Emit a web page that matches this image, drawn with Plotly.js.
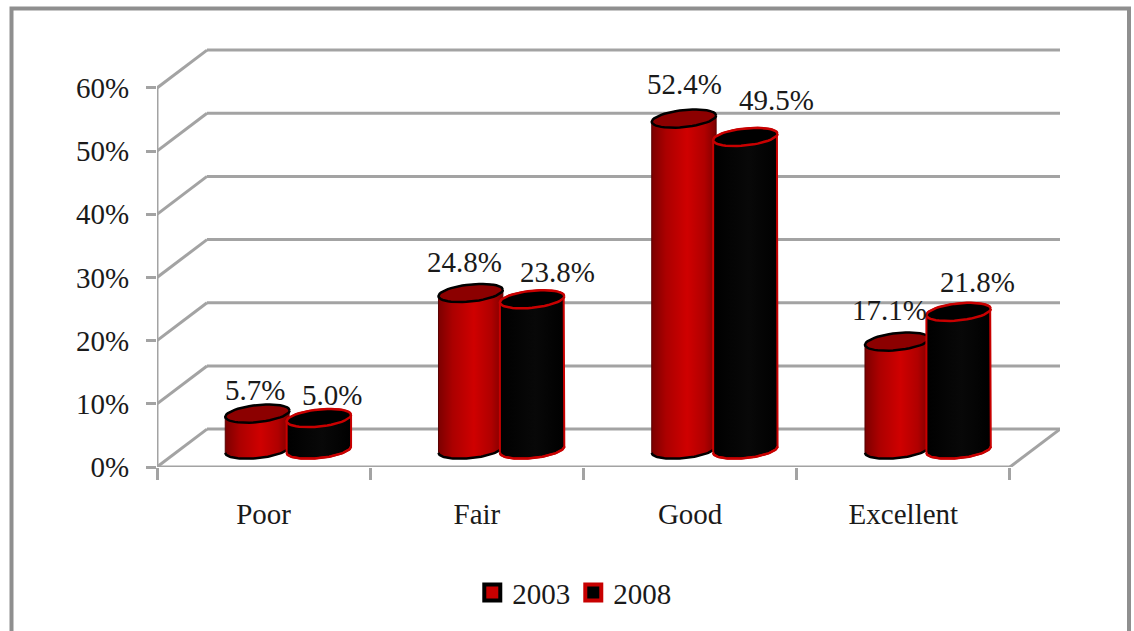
<!DOCTYPE html>
<html>
<head>
<meta charset="utf-8">
<script src="https://cdn.plot.ly/plotly-3.0.1.min.js"></script>
<style>html,body{margin:0;padding:0;background:#fff;overflow:hidden}</style>
</head>
<body>
<div id="chart" style="width:1134px;height:631px"></div>
<script>
const categories = ["Poor", "Fair", "Good", "Excellent"];
const series2003 = [5.7, 24.8, 52.4, 17.1];
const series2008 = [5.0, 23.8, 49.5, 21.8];
const yTicks = [0, 10, 20, 30, 40, 50, 60];
const yTickText = ["0%", "10%", "20%", "30%", "40%", "50%", "60%"];

// label nudges relative to the cylinder's top, in pixels
const labelDx2003 = [-2, -6, 1, -8];
const labelDy2003 = [24, 31, 35, 32];
const labelDx2008 = [13, 25, 31, 19];
const labelDy2008 = [23, 27, 37, 30];

const GRID = "#a3a3a3", FRAME = "#8f8f8f", TEXT = "#1a1a1a";
const FONT = "Liberation Serif";
const DEPTH_X = 0.2345, DEPTH_Y = 6;   // 3-D wall offset in axis units
const BASE_X = 0.115, BASE_Y = 2.75;   // cylinder foot on the floor
const OFFSET = 0.144, RX = 0.151;      // cylinder spacing and radius
const RY = 1.35, TILT = 0.5;           // ellipse shape, in % units
const ARC = 48;

function arc(xc, yc, t0, t1) {
  const xs = [], ys = [];
  for (let i = 0; i <= ARC; i++) {
    const t = t0 + (t1 - t0) * i / ARC;
    xs.push(xc + RX * Math.cos(t));
    ys.push(yc + RY * Math.sin(t) + TILT * Math.cos(t));
  }
  return {xs, ys};
}

const redScale = [[0, "#7c0000"], [0.22, "#ab0000"], [0.55, "#cf0000"], [0.82, "#b00000"], [1, "#7e0000"]];
const blackScale = [[0, "#000000"], [0.55, "#080808"], [1, "#000000"]];

function cylinder(i, v, off, scale, edge, cap, edgeW) {
  const xc = i + BASE_X + off, y0 = BASE_Y, y1 = BASE_Y + v;
  const low = arc(xc, y0, Math.PI, 2 * Math.PI);
  const up = arc(xc, y1, 0, Math.PI);
  const lid = arc(xc, y1, 0, 2 * Math.PI);
  const common = {type: "scatter", mode: "lines", hoverinfo: "skip", showlegend: false};
  return [
    Object.assign({}, common, {
      x: low.xs.concat(up.xs, [low.xs[0]]), y: low.ys.concat(up.ys, [low.ys[0]]),
      fill: "toself",
      fillgradient: {type: "horizontal", colorscale: scale},
      line: {color: edge === "#000000" ? "#5a0000" : edge, width: edgeW}
    }),
    Object.assign({}, common, {x: low.xs, y: low.ys, line: {color: edge, width: 2.5}}),
    Object.assign({}, common, {
      x: lid.xs, y: lid.ys, fill: "toself", fillcolor: cap, line: {color: edge, width: 2.5}
    })
  ];
}

const traces = [];
const annotations = [];
const label = (x, y, v, dx, dy) => annotations.push({
  x, y, text: v.toFixed(1) + "%", showarrow: false, xshift: dx, yshift: dy,
  xanchor: "center", yanchor: "middle", font: {family: FONT, size: 29, color: TEXT}
});
categories.forEach((c, i) => {
  traces.push(...cylinder(i, series2003[i], -OFFSET, redScale, "#000000", "#8c0000", 1));
  traces.push(...cylinder(i, series2008[i], OFFSET, blackScale, "#c80000", "#000000", 2));
  label(i + BASE_X - OFFSET, BASE_Y + series2003[i], series2003[i], labelDx2003[i], labelDy2003[i]);
  label(i + BASE_X + OFFSET, BASE_Y + series2008[i], series2008[i], labelDx2008[i], labelDy2008[i]);
});
// legend entries
traces.push({type: "scatter", mode: "markers", name: "2003", x: [null], y: [null],
  marker: {symbol: "square", size: 16, color: "#c80000", line: {color: "#000000", width: 4}}});
traces.push({type: "scatter", mode: "markers", name: "2008", x: [null], y: [null],
  marker: {symbol: "square", size: 16, color: "#000000", line: {color: "#c80000", width: 4}}});

const X0 = -0.5, X1 = categories.length - 0.5;
const seg = (x0, y0, x1, y1, w) => ({
  type: "line", xref: "x", yref: "y", layer: "below", x0, y0, x1, y1,
  line: {color: GRID, width: w || 3}
});
const shapes = [];
yTicks.forEach(t => {
  shapes.push(seg(X0, t, X0 + DEPTH_X, t + DEPTH_Y));
  shapes.push(seg(X0 + DEPTH_X, t + DEPTH_Y, X1 + DEPTH_X, t + DEPTH_Y));
});
shapes.push(seg(X0, yTicks[0], X0, yTicks[yTicks.length - 1]));
shapes.push(seg(X0, 0, X1, 0));
shapes.push(seg(X1, 0, X1 + DEPTH_X, DEPTH_Y));
// outer chart border, running off the bottom of the picture
shapes.push({type: "rect", xref: "paper", yref: "paper", layer: "below",
  x0: (11.5 - 157) / 903, x1: (1129 - 157) / 903,
  y0: -0.6, y1: (467 - 8.5) / 419,
  line: {color: FRAME, width: 4}});

const layout = {
  width: 1134, height: 631,
  margin: {l: 157, r: 74, t: 48, b: 164, pad: 0},
  paper_bgcolor: "#ffffff", plot_bgcolor: "rgba(0,0,0,0)",
  showlegend: true,
  legend: {orientation: "h", x: 0.461, xanchor: "center", y: -0.3, yanchor: "middle",
    font: {family: FONT, size: 29, color: TEXT}, entrywidth: 56, entrywidthmode: "pixels",
    bgcolor: "rgba(0,0,0,0)", itemclick: false, itemdoubleclick: false},
  xaxis: {
    range: [X0, X1 + DEPTH_X], tickmode: "array",
    tickvals: categories.map((c, i) => i), ticktext: categories,
    ticks: "", showgrid: false, zeroline: false, showline: false, fixedrange: true,
    ticklabelstandoff: 27,
    tickfont: {family: FONT, size: 29, color: TEXT},
    minor: {tickmode: "array", tickvals: categories.map((c, i) => i - 0.5).concat([X1]),
      ticks: "outside", ticklen: 12, tickwidth: 3, tickcolor: GRID, showgrid: false}
  },
  yaxis: {
    range: [0, 66.33], tickmode: "array", tickvals: yTicks, ticktext: yTickText,
    ticks: "outside", ticklen: 10, tickwidth: 3, tickcolor: GRID,
    showgrid: false, zeroline: false, showline: false, fixedrange: true,
    ticklabelstandoff: 11,
    tickfont: {family: FONT, size: 29, color: TEXT}
  },
  shapes, annotations
};
Plotly.newPlot("chart", traces, layout, {displayModeBar: false, staticPlot: true});
</script>
</body>
</html>
